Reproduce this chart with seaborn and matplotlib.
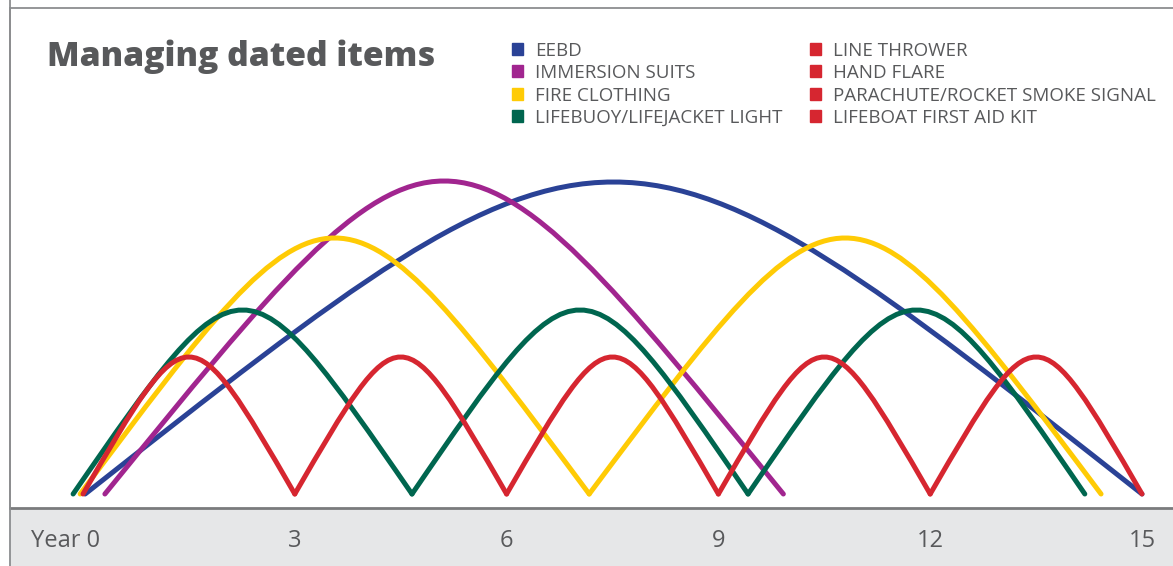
import numpy as np
import matplotlib
matplotlib.use("Agg")
import matplotlib.pyplot as plt
import seaborn as sns
from matplotlib.path import Path
from matplotlib.patches import PathPatch, Rectangle
from matplotlib.lines import Line2D
import matplotlib.transforms as mtransforms

# Legend items and colours
items = ["EEBD", "IMMERSION SUITS", "FIRE CLOTHING", "LIFEBUOY/LIFEJACKET LIGHT",
         "LINE THROWER", "HAND FLARE", "PARACHUTE/ROCKET SMOKE SIGNAL", "LIFEBOAT FIRST AID KIT"]
item_colors = ["#2a4296", "#a1258f", "#ffcb05", "#00664f",
               "#d62630", "#d62630", "#d62630", "#d62630"]

# Replacement points (years) for each service-life cycle
eebd_years = [0.03, 15.0]
immersion_years = [0.31, 9.92]
fire_years = [-0.04, 7.17, 14.42]
lifebuoy_years = [-0.14, 4.66, 9.42, 14.19]
pyro_years = [0, 3, 6, 9, 12, 15]

# Arc heights (relative units)
eebd_height = 312
immersion_height = 313
fire_height = 256
lifebuoy_height = 184
pyro_height = 137

tick_years = [0, 3, 6, 9, 12, 15]
tick_labels = ["Year 0", "3", "6", "9", "12", "15"]

sns.set_theme(style="white")
plt.rcParams['font.family'] = ['Open Sans', 'DejaVu Sans']

W, H = 1173, 566
fig = plt.figure(figsize=(W / 100, H / 100), dpi=100)
fig.patch.set_facecolor("white")

# px -> figure fraction helpers
fx = lambda px: px / W
fy = lambda py: 1 - py / H

ax = fig.add_axes([fx(10), fy(508), fx(W - 10), (508 - 8) / H])
ax.set_facecolor("white")

border = "#8c8e90"
text_col = "#58595b"

# bottom band
fig.add_artist(Rectangle((fx(10), 0), fx(W - 10), (H - 508) / H,
                         transform=fig.transFigure, color="#e6e7e8", zorder=0))
fig.add_artist(Line2D([fx(10), fx(10)], [0, 1], transform=fig.transFigure,
                      color=border, lw=1.3))


def draw_arcs(years, height, color):
    for x0, x1 in zip(years[:-1], years[1:]):
        xm = (x0 + x1) / 2
        verts = [(x0, 0), (xm, height * 4 / 3), (xm, height * 4 / 3), (x1, 0)]
        codes = [Path.MOVETO, Path.CURVE4, Path.CURVE4, Path.CURVE4]
        ax.add_patch(PathPatch(Path(verts, codes), facecolor="none", edgecolor=color,
                               lw=3.6, capstyle="round", joinstyle="round"))


draw_arcs(eebd_years, eebd_height, item_colors[0])
draw_arcs(immersion_years, immersion_height, item_colors[1])
draw_arcs(fire_years, fire_height, item_colors[2])
draw_arcs(lifebuoy_years, lifebuoy_height, item_colors[3])
draw_arcs(pyro_years, pyro_height, item_colors[4])

# scale: year 0 at px 83, 70.6 px per year; baseline at px 494
ax.set_xlim((10 - 83) / 70.6, (W - 83) / 70.6)
ax.set_ylim(-(508 - 494), 494 - 8)

ax.set_yticks([])
ax.set_xticks(tick_years)
ax.set_xticklabels(tick_labels)
ax.tick_params(axis="x", length=0, pad=15, labelsize=17, labelcolor=text_col)
first = ax.get_xticklabels()[0]
first.set_transform(first.get_transform() +
                    mtransforms.ScaledTranslation(-17 / 100, 0, fig.dpi_scale_trans))

ax.spines["right"].set_visible(False)
ax.spines["left"].set_color(border)
ax.spines["left"].set_linewidth(1.3)
ax.spines["top"].set_color(border)
ax.spines["top"].set_linewidth(1.3)
ax.spines["bottom"].set_color("#7a7b7d")
ax.spines["bottom"].set_linewidth(2)

# title
fig.text(fx(47), fy(66), "Managing dated items", fontsize=24.2, fontweight=800,
         color=text_col, va="baseline", ha="left")

# legend
row_y = [49, 71, 94, 116]
col_sq = [512, 810]
col_tx = [535, 833]
for i, (name, c) in enumerate(zip(items, item_colors)):
    col, row = divmod(i, 4)
    fig.add_artist(Rectangle((fx(col_sq[col]), fy(row_y[row] + 5.5)), 11 / W, 11 / H,
                             transform=fig.transFigure, color=c))
    fig.text(fx(col_tx[col]), fy(row_y[row] + 2), name, fontsize=13.5, color=text_col,
             va="center", ha="left")

fig.savefig("out.png", dpi=100)
